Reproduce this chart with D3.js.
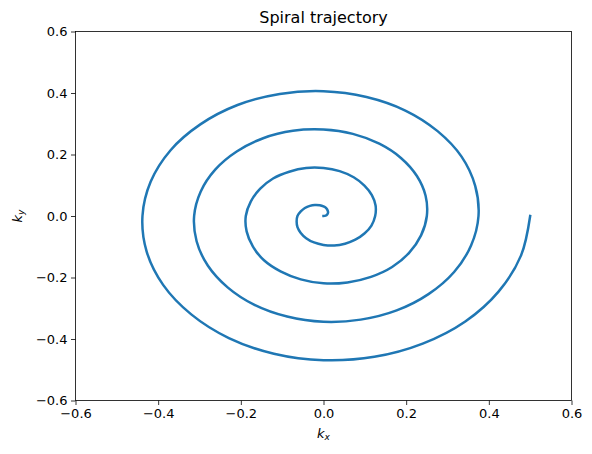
<!DOCTYPE html>
<html><head><meta charset="utf-8">
<script src="https://cdn.jsdelivr.net/npm/d3@7"></script>
<style>
html,body{margin:0;padding:0;background:#fff;}
svg text{font-family:"DejaVu Sans",sans-serif;}
</style></head>
<body><svg id="c" width="592" height="454"></svg>
<script>
const kx = [0,0.005,0.009,0.011,0.010,0.007,0,-0.009,-0.021,-0.033,-0.045,-0.055,-0.063,-0.065,-0.063,-0.055,-0.042,-0.023,0,0.026,0.052,0.077,0.099,0.116,
0.125,0.126,0.117,0.099,0.073,0.039,0,-0.042,-0.083,-0.122,-0.153,-0.176,-0.188,-0.186,-0.171,-0.144,-0.104,-0.055,0,0.058,0.115,0.166,0.207,0.236,
0.25,0.247,0.226,0.188,0.135,0.071,0,-0.074,-0.146,-0.210,-0.262,-0.297,-0.313,-0.307,-0.280,-0.232,-0.167,-0.088,0,0.090,0.177,0.254,0.316,0.357,
0.375,0.367,0.334,0.276,0.198,0.104,0,-0.106,-0.208,-0.298,-0.370,-0.418,-0.438,-0.428,-0.388,-0.320,-0.229,-0.120,0,0.123,0.240,0.343,0.424,0.478,0.5];
const ky = [0,0.001,0.005,0.011,0.018,0.025,0.031,0.035,0.036,0.033,0.026,0.015,0,-0.018,-0.036,-0.055,-0.072,-0.086,-0.094,-0.096,-0.090,-0.077,-0.057,-0.031,
0,0.034,0.068,0.099,0.126,0.146,0.156,0.156,0.144,0.122,0.089,0.047,0,-0.050,-0.099,-0.144,-0.180,-0.206,-0.219,-0.216,-0.198,-0.166,-0.120,-0.063,
0,0.066,0.130,0.188,0.235,0.267,0.281,0.277,0.253,0.210,0.151,0.080,0,-0.082,-0.161,-0.232,-0.289,-0.327,-0.344,-0.337,-0.307,-0.254,-0.182,-0.096,
0,0.098,0.193,0.276,0.343,0.387,0.406,0.397,0.361,0.298,0.214,0.112,0,-0.115,-0.224,-0.320,-0.397,-0.448,-0.469,-0.458,-0.415,-0.343,-0.245,-0.128,0];
const xTicks = [-0.6,-0.4,-0.2,0.0,0.2,0.4,0.6];
const yTicks = [-0.6,-0.4,-0.2,0.0,0.2,0.4,0.6];
const titleText = "Spiral trajectory";

const svg = d3.select("#c");
const L=75.5, R=571.5, T=31.5, B=400.5;
const x = d3.scaleLinear().domain([-0.6,0.6]).range([L,R]);
const y = d3.scaleLinear().domain([-0.6,0.6]).range([B,T]);
const fmt = v => (v<0?"\u2212":"") + Math.abs(v).toFixed(1);

const line = d3.line().x(d=>x(d[0])).y(d=>y(d[1])).curve(d3.curveCatmullRom.alpha(0.5));
const pts = kx.map((v,i)=>[v,ky[i]]);
svg.append("path").datum(pts).attr("d",line).attr("fill","none")
  .attr("stroke","#1f77b4").attr("stroke-width",2.5).attr("stroke-linejoin","round").attr("stroke-linecap","square");

const xa = svg.append("g").attr("transform",`translate(0,${B})`)
  .call(d3.axisBottom(x).tickValues(xTicks).tickFormat(fmt).tickSize(4.5).tickPadding(3.5));
const ya = svg.append("g").attr("transform",`translate(${L},0)`)
  .call(d3.axisLeft(y).tickValues(yTicks).tickFormat(fmt).tickSize(4.5).tickPadding(3.5));
[xa,ya].forEach(g=>{
  g.select(".domain").remove();
  g.selectAll("line").attr("stroke","#000").attr("stroke-width",0.8);
  g.selectAll("text").attr("font-family","DejaVu Sans").attr("font-size",13).attr("fill","#000");
});
svg.append("rect").attr("x",L).attr("y",T).attr("width",R-L).attr("height",B-T)
  .attr("fill","none").attr("stroke","#000").attr("stroke-width",0.8);

svg.append("text").attr("x",(L+R)/2).attr("y",23).attr("text-anchor","middle")
  .attr("font-size",16).text(titleText);

const xl = svg.append("text").attr("x",(L+R)/2).attr("y",438).attr("text-anchor","middle").attr("font-size",13);
xl.append("tspan").attr("font-style","italic").text("k");
xl.append("tspan").attr("font-style","italic").attr("font-size",9).attr("dy",2).text("x");

const yl = svg.append("text").attr("transform",`translate(22,${(T+B)/2}) rotate(-90)`).attr("text-anchor","middle").attr("font-size",13);
yl.append("tspan").attr("font-style","italic").text("k");
yl.append("tspan").attr("font-style","italic").attr("font-size",9).attr("dy",2).text("y");
</script></body></html>
